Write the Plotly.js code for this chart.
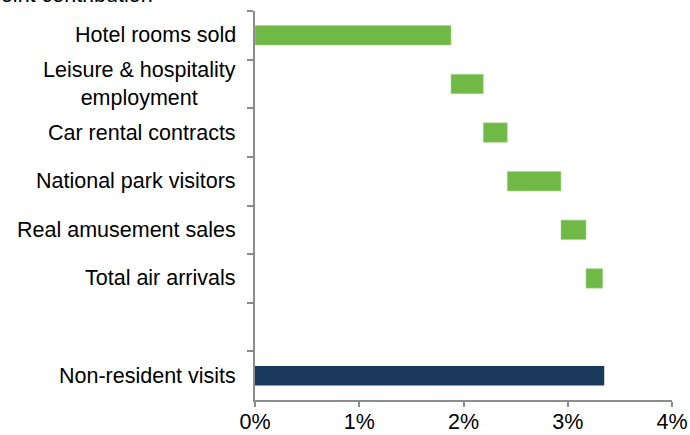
<!DOCTYPE html>
<html>
<head>
<meta charset="utf-8">
<script src="https://cdn.plot.ly/plotly-3.0.1.min.js"></script>
<style>html,body{margin:0;padding:0;background:#fff;}#chart{width:690px;height:435px;}</style>
</head>
<body>
<div id="chart"></div>
<script>
// Data (percentage points)
const components = ["Hotel rooms sold", "Leisure & hospitality<br>employment", "Car rental contracts", "National park visitors", "Real amusement sales", "Total air arrivals"];
const contributions = [1.88, 0.31, 0.23, 0.515, 0.24, 0.16];
const blankCategory = " ";
const totalLabel = "Non-resident visits";
const totalValue = 3.35;
const xTickVals = [0, 1, 2, 3, 4];
const xTickText = ["0%", "1%", "2%", "3%", "4%"];
const yTitle = "Percentage point contribution";

const categories = components.concat([blankCategory, totalLabel]);

// cumulative bases for the floating bars
const bases = [];
let run = 0;
for (const c of contributions) { bases.push(run); run += c; }

const FONT = "Liberation Sans, Arial, sans-serif";
const FS = 21.5;

const traces = [
  {
    type: "bar", orientation: "h",
    y: components, x: contributions, base: bases,
    marker: {color: "#71b946", line: {color: "#a8d88e", width: 0.6}},
    hoverinfo: "x+y", showlegend: false
  },
  {
    type: "bar", orientation: "h",
    y: [totalLabel], x: [totalValue], base: [0],
    marker: {color: "#1b385d"},
    hoverinfo: "x+y", showlegend: false
  }
];

const annotations = categories.filter(c => c !== blankCategory).map(c => ({
  xref: "paper", yref: "y", x: -0.04, y: c,
  text: c, showarrow: false, xanchor: "right", yanchor: "middle", align: "center",
  font: {family: FONT, size: FS, color: "#000"}
}));
annotations.push({
  xref: "paper", yref: "paper", x: -0.24, y: 1.041,
  text: yTitle, showarrow: false, xanchor: "right", yanchor: "middle",
  font: {family: FONT, size: FS, color: "#000"}
});

const layout = {
  width: 690, height: 435,
  margin: {l: 255, r: 18, t: 11, b: 35, pad: 0},
  paper_bgcolor: "#fff", plot_bgcolor: "#fff",
  barmode: "overlay", bargap: 0.6,
  font: {family: FONT, size: FS, color: "#000"},
  xaxis: {
    range: [0, 4], tickvals: xTickVals, ticktext: xTickText,
    showgrid: false, zeroline: false,
    showline: true, linecolor: "#8c8c8c", linewidth: 2,
    ticks: "outside", ticklen: 5, tickwidth: 2, tickcolor: "#8c8c8c",
    ticklabelstandoff: -4,
    tickfont: {family: FONT, size: FS, color: "#000"}
  },
  yaxis: {
    type: "category", categoryorder: "array", categoryarray: categories,
    autorange: "reversed",
    showgrid: false, zeroline: false,
    showline: true, linecolor: "#8c8c8c", linewidth: 2,
    ticks: "outside", tickson: "boundaries", ticklen: 6, tickwidth: 2, tickcolor: "#8c8c8c",
    showticklabels: false
  },
  annotations: annotations
};

Plotly.newPlot("chart", traces, layout, {displayModeBar: false, staticPlot: true});
</script>
</body>
</html>
